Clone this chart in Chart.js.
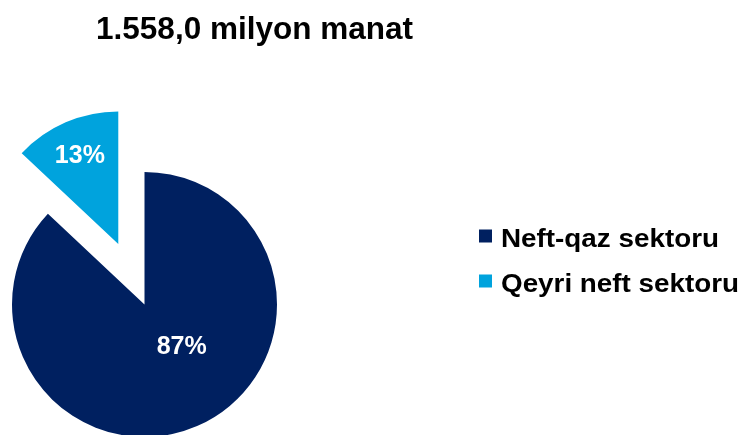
<!DOCTYPE html>
<html>
<head>
<meta charset="utf-8">
<script src="https://cdn.jsdelivr.net/npm/chart.js@4/dist/chart.umd.min.js"></script>
<style>
html,body{margin:0;padding:0;background:#fff;}
#wrap{position:relative;width:741px;height:435px;}
</style>
</head>
<body>
<div id="wrap"><canvas id="c" width="741" height="435"></canvas></div>
<script>
const titleText = '1.558,0 milyon manat';
const categories = ['Neft-qaz sektoru', 'Qeyri neft sektoru'];
const shares = [87, 13];
const percentLabels = ['87%', '13%'];
const sliceColors = ['#002060', '#00A3DD'];
// Chart.js draws an arc's offset at a quarter of this value (264 -> 66px)
const sliceOffsets = [0, 264];

const FONT = '"Liberation Sans", Arial, sans-serif';

// Chart.js enlarges and narrows an offset arc; keep the exploded slice at the pie's radius and angle
const keepGeometry = {
  id: 'keepGeometry',
  afterDatasetUpdate(chart, args) {
    const ds = chart.data.datasets[args.index];
    args.meta.data.forEach((arc, i) => {
      const off = (ds.offset[i] || 0) / 4;
      if (!off) return;
      const fix = 1 - Math.sin(Math.min(Math.PI, arc.circumference));
      const rOff = off * fix;
      const Rd = arc.outerRadius;
      arc.outerRadius = Rd - rOff;
      const da = rOff / (Math.PI * Rd) / 2;
      arc.startAngle -= da;
      arc.endAngle += da;
    });
  }
};

const overlay = {
  id: 'overlay',
  afterDatasetsDraw(chart) {
    const ctx = chart.ctx;
    ctx.save();
    // title
    ctx.fillStyle = '#000';
    ctx.font = 'bold 31.5px ' + FONT;
    ctx.textAlign = 'center';
    ctx.textBaseline = 'alphabetic';
    ctx.fillText(titleText, 254.5, 39);
    // percent labels
    const meta = chart.getDatasetMeta(0);
    const R = meta.controller.outerRadius;
    const labelPos = [{ang: 138, frac: 0.42}, {ang: null, frac: 0.73}];
    ctx.fillStyle = '#fff';
    ctx.font = 'bold 25px ' + FONT;
    ctx.textBaseline = 'middle';
    meta.data.forEach((arc, i) => {
      const p = arc.getProps(['x', 'y', 'startAngle', 'endAngle']);
      const lp = labelPos[i];
      const mid = (p.startAngle + p.endAngle) / 2;
      const a = lp.ang === null ? mid : (lp.ang - 90) * Math.PI / 180;
      const off = (chart.data.datasets[0].offset[i] || 0) / 4;
      const cx = p.x + Math.cos(mid) * off;
      const cy = p.y + Math.sin(mid) * off;
      const r = R * lp.frac;
      ctx.fillText(percentLabels[i], cx + Math.cos(a) * r, cy + Math.sin(a) * r + 1);
    });
    // legend
    ctx.textAlign = 'left';
    ctx.textBaseline = 'alphabetic';
    ctx.font = 'bold 26px ' + FONT;
    categories.forEach((c, i) => {
      const y = 247 + i * 45;
      ctx.fillStyle = sliceColors[i];
      ctx.fillRect(479, y - 17.5, 13, 13);
      ctx.fillStyle = '#000';
      ctx.save();
      ctx.translate(501, y);
      ctx.scale(1.07, 1);
      ctx.fillText(c, 0, 0);
      ctx.restore();
    });
    ctx.restore();
  }
};

new Chart(document.getElementById('c'), {
  type: 'pie',
  data: {
    labels: categories,
    datasets: [{
      data: shares,
      backgroundColor: sliceColors,
      borderWidth: 0,
      offset: sliceOffsets,
      hoverOffset: 0,
      clip: false
    }]
  },
  options: {
    responsive: false,
    animation: false,
    radius: 132.5,
    cutout: '0%',
    layout: { padding: { left: 0, right: 452, top: 174, bottom: 0 } },
    plugins: {
      legend: { display: false },
      title: { display: false },
      tooltip: { enabled: false }
    },
    events: []
  },
  plugins: [keepGeometry, overlay]
});
</script>
</body>
</html>
